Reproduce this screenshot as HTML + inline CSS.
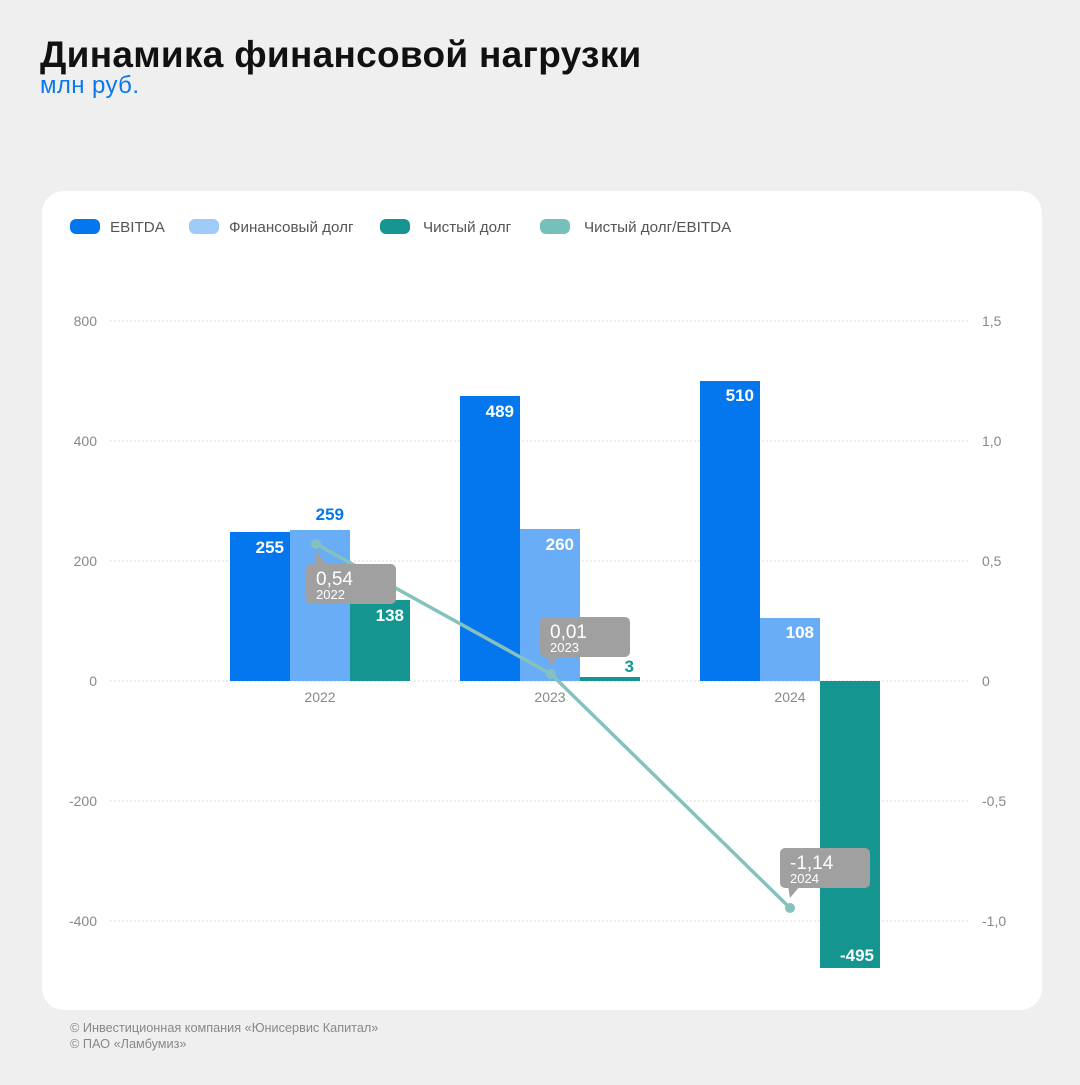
<!DOCTYPE html>
<html><head><meta charset="utf-8"><style>
body{margin:0;width:1080px;height:1080px;background:#efefef;font-family:"Liberation Sans",sans-serif;overflow:hidden}
</style></head><body>
<svg width="1080" height="1080" xmlns="http://www.w3.org/2000/svg" font-family="Liberation Sans, sans-serif">
<text x="40" y="67" font-size="37" font-weight="bold" fill="#111" letter-spacing="0.3">Динамика финансовой нагрузки</text>
<text x="40" y="93" font-size="24" fill="#0a78f0" letter-spacing="0.4">млн руб.</text>
<rect x="42" y="191" width="1000" height="819" rx="22" fill="#fff"/>
<g font-size="15.2" fill="#555">
<rect x="70" y="219" width="30" height="15" rx="6" fill="#0577ee"/><text x="110" y="232">EBITDA</text>
<rect x="189" y="219" width="30" height="15" rx="6" fill="#9fcbf9"/><text x="229" y="232">Финансовый долг</text>
<rect x="380" y="219" width="30" height="15" rx="6" fill="#15958f"/><text x="423" y="232">Чистый долг</text>
<rect x="540" y="219" width="30" height="15" rx="6" fill="#76c0bc"/><text x="584" y="232">Чистый долг/EBITDA</text>
</g>
<g stroke="#ccc" stroke-dasharray="1.5 2.5" stroke-width="1">
<line x1="110" y1="321" x2="970" y2="321"/><line x1="110" y1="441" x2="970" y2="441"/>
<line x1="110" y1="561" x2="970" y2="561"/><line x1="110" y1="681" x2="970" y2="681"/>
<line x1="110" y1="801" x2="970" y2="801"/><line x1="110" y1="921" x2="970" y2="921"/>
</g>
<g font-size="14" fill="#888" text-anchor="end">
<text x="97" y="326">800</text><text x="97" y="446">400</text><text x="97" y="566">200</text>
<text x="97" y="686">0</text><text x="97" y="806">-200</text><text x="97" y="926">-400</text>
</g>
<g font-size="14" fill="#888">
<text x="982" y="326">1,5</text><text x="982" y="446">1,0</text><text x="982" y="566">0,5</text>
<text x="982" y="686">0</text><text x="982" y="806">-0,5</text><text x="982" y="926">-1,0</text>
</g>
<g font-size="14" fill="#888" text-anchor="middle">
<text x="320" y="702">2022</text><text x="550" y="702">2023</text><text x="790" y="702">2024</text>
</g>
<rect x="230" y="532" width="60" height="149" fill="#0577ee"/>
<rect x="290" y="530" width="60" height="151" fill="#68adf5"/>
<rect x="350" y="600" width="60" height="81" fill="#15958f"/>
<rect x="460" y="396" width="60" height="285" fill="#0577ee"/>
<rect x="520" y="529" width="60" height="152" fill="#68adf5"/>
<rect x="580" y="677" width="60" height="4" fill="#15958f"/>
<rect x="700" y="381" width="60" height="300" fill="#0577ee"/>
<rect x="760" y="618" width="60" height="63" fill="#68adf5"/>
<rect x="820" y="681" width="60" height="287" fill="#15958f"/>
<g font-size="17" font-weight="bold" fill="#fff" text-anchor="end">
<text x="284" y="553">255</text><text x="514" y="417">489</text><text x="754" y="401">510</text>
<text x="574" y="550">260</text><text x="814" y="638">108</text>
<text x="404" y="621">138</text><text x="874" y="961">-495</text>
</g>
<text x="344" y="520" font-size="17" font-weight="bold" fill="#0577ee" text-anchor="end">259</text>
<text x="634" y="672" font-size="17" font-weight="bold" fill="#15958f" text-anchor="end">3</text>
<polyline points="316,544 551,674 790,908" fill="none" stroke="#85c1bd" stroke-width="3.5"/>
<circle cx="316" cy="544" r="5" fill="#85c1bd"/><circle cx="551" cy="674" r="5" fill="#85c1bd"/><circle cx="790" cy="908" r="5" fill="#85c1bd"/>
<g fill="#a0a0a0">
<rect x="306" y="564" width="90" height="40" rx="5"/><polygon points="316,551 316,566 328,566"/>
<rect x="540" y="617" width="90" height="40" rx="5"/><polygon points="548,655 560,655 550,666"/>
<rect x="780" y="848" width="90" height="40" rx="5"/><polygon points="788,886 800,886 790,898"/>
</g>
<g fill="#fff">
<text x="316" y="585" font-size="19">0,54</text><text x="316" y="599" font-size="13">2022</text>
<text x="550" y="638" font-size="19">0,01</text><text x="550" y="652" font-size="13">2023</text>
<text x="790" y="869" font-size="19">-1,14</text><text x="790" y="883" font-size="13">2024</text>
</g>
<g font-size="12.7" fill="#888">
<text x="70" y="1032">© Инвестиционная компания «Юнисервис Капитал»</text>
<text x="70" y="1048">© ПАО «Ламбумиз»</text>
</g>
</svg>
</body></html>
